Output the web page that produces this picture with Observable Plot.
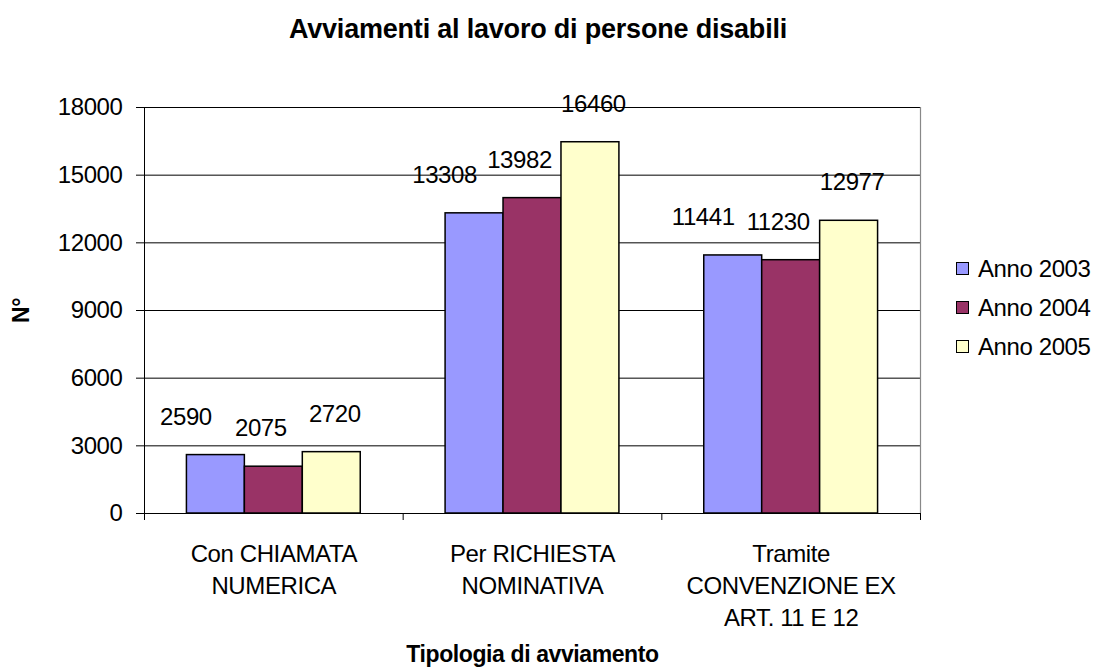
<!DOCTYPE html>
<html>
<head>
<meta charset="utf-8">
<script src="https://cdn.jsdelivr.net/npm/d3@7"></script>
<script src="https://cdn.jsdelivr.net/npm/@observablehq/plot@0.6"></script>
<style>
  html, body { margin: 0; padding: 0; background: #fff; }
  #wrap { position: relative; width: 1099px; height: 670px; font-family: "Liberation Sans", Arial, sans-serif; color: #000; }
  #title { width: 1076px; height: 60px; box-sizing: border-box; padding-top: 16px; text-align: center; font-weight: bold; font-size: 27px; line-height: 27px; letter-spacing: -0.2px; }
  #legend { position: absolute; left: 956px; top: 249px; font-size: 24px; letter-spacing: -0.4px; }
  #legend .row { display: flex; align-items: center; height: 39px; }
  #legend .sw { width: 13px; height: 13px; box-sizing: border-box; border: 1px solid #000; margin-right: 9px; }
  svg g[aria-label="y-axis label"] text, svg g[aria-label="x-axis label"] text { font-weight: bold; font-size: 23px; }
</style>
</head>
<body>
<div id="wrap">
  <div id="title">Avviamenti al lavoro di persone disabili</div>
  <div id="chart"></div>
  <div id="legend"></div>
</div>
<script>
// ---- data ----
const categories = ["Con CHIAMATA\nNUMERICA", "Per RICHIESTA\nNOMINATIVA", "Tramite\nCONVENZIONE EX\nART. 11 E 12"];
const series = ["Anno 2003", "Anno 2004", "Anno 2005"];
const values2003 = [2590, 13308, 11441];
const values2004 = [2075, 13982, 11230];
const values2005 = [2720, 16460, 12977];
const yTicks = [0, 3000, 6000, 9000, 12000, 15000, 18000];
const yLabel = "N°";
const xLabel = "Tipologia di avviamento";

// ---- rendering ----
const colors = ["#9999FF", "#993366", "#FFFFCC"];
const seriesValues = [values2003, values2004, values2005];
const rows = [];
categories.forEach((c, ci) => series.forEach((s, si) => rows.push({category: c, ci, series: s, si, value: seriesValues[si][ci]})));

const barW = 0.224;                 // fraction of a category slot per bar
const gap = (1 - barW * series.length) / 2;
const x1 = d => d.ci + gap + d.si * barW;
const x2 = d => x1(d) + barW;
const xc = d => x1(d) + barW / 2;
const labelShift = {"Anno 2003": -30, "Anno 2004": -13, "Anno 2005": 3};

const plot = Plot.plot({
  width: 1099,
  height: 610,
  marginTop: 47,
  marginBottom: 157,
  marginLeft: 144,
  marginRight: 179,
  style: {fontFamily: "'Liberation Sans', Arial, sans-serif", fontSize: "24px", color: "#000", background: "#fff", letterSpacing: "-0.4px"},
  x: {domain: [0, categories.length]},
  y: {domain: [0, 18000]},
  color: {domain: series, range: colors},
  marks: [
    Plot.gridY({ticks: yTicks, stroke: "#000", strokeOpacity: 1, strokeWidth: 1}),
    Plot.rectY(rows, {x1, x2, y1: 0, y2: "value", fill: "series", stroke: "#000", strokeWidth: 1.5}),
    Plot.ruleX([categories.length], {stroke: "#888", strokeWidth: 1.2}),
    Plot.ruleX([0], {stroke: "#000", strokeWidth: 1}),
    Plot.ruleY([0], {stroke: "#000", strokeWidth: 1}),
    Plot.axisY({ticks: yTicks, tickSize: 8, tickPadding: 14, tickFormat: d3.format("d"), label: yLabel, labelAnchor: "center", labelArrow: "none", labelOffset: 132}),
    Plot.axisX({ticks: d3.range(categories.length + 1), tickSize: 7, tickFormat: () => "", label: xLabel, labelAnchor: "center", labelArrow: "none", labelOffset: 148}),
    Plot.text(categories, {x: (d, i) => i + 0.5, text: d => d, frameAnchor: "bottom", lineAnchor: "top", dy: 26, lineHeight: 1.333}),
    ...series.map(s => Plot.text(rows.filter(r => r.series === s), {x: xc, y: "value", text: d => String(d.value), dx: labelShift[s], dy: -38}))
  ]
});
document.getElementById("chart").appendChild(plot);

const color = plot.scale("color");
const legend = d3.select("#legend");
series.forEach((s, i) => {
  const row = legend.append("div").attr("class", "row");
  row.append("div").attr("class", "sw").style("background", colors[color.domain.indexOf(s)]);
  row.append("span").text(s);
});
</script>
</body>
</html>
